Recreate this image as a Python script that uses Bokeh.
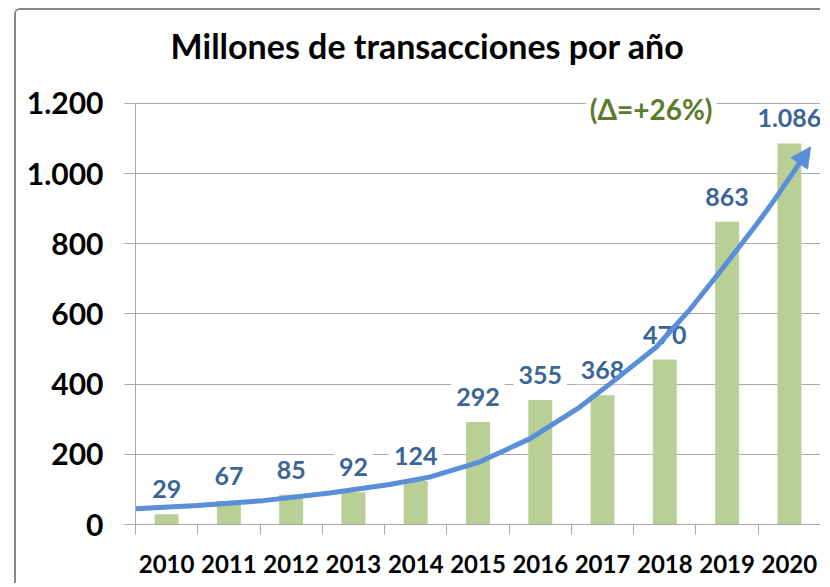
from bokeh.plotting import figure
from bokeh.models import (FixedTicker, Label, Arrow, NormalHead)
from bokeh.core.properties import value
from bokeh.embed import file_html
from bokeh.resources import INLINE

# ---- data ----
years = ["2010", "2011", "2012", "2013", "2014", "2015", "2016", "2017", "2018", "2019", "2020"]
transactions = [29, 67, 85, 92, 124, 292, 355, 368, 470, 863, 1086]
value_labels = ["29", "67", "85", "92", "124", "292", "355", "368", "470", "863", "1.086"]
y_ticks = [0, 200, 400, 600, 800, 1000, 1200]
y_tick_labels = ["0", "200", "400", "600", "800", "1.000", "1.200"]
# trend arrow (x in category index units)
trend_x = [-0.5, 0.49, 1.55, 2.62, 3.58, 4.22, 5.02, 5.83, 6.63, 7.15, 7.86, 8.39, 8.92, 9.46, 9.78, 10.34]
trend_y = [45, 54, 68, 90, 114, 135, 178, 244, 334, 405, 505, 610, 728, 852, 930, 1076]
growth_note = "(Δ=+26%)"
title_text = "Millones de transacciones por año"

FONT = "Lato"
BAR = "#b8cf95"
LBL = "#3b6596"
ARROW = "#5a8ed8"
GRID = "#a9a9a9"

idx = list(range(len(years)))

p = figure(width=806, height=575, x_range=(-0.5, 10.5), y_range=(0, 1459),
           output_backend="svg", toolbar_location=None,
           min_border_left=119, min_border_right=2, min_border_top=2, min_border_bottom=61)
p.styles = {"margin-left": "14px", "margin-top": "8px",
            "border-left": "2px solid #878787",
            "border-top": "2px solid #878787", "border-top-left-radius": "6px"}
p.outline_line_color = None
p.background_fill_color = "white"
p.title.visible = False

# title (inside the tall frame, above the plotted values)
p.add_layout(Label(x=4.19, y=1364, text=title_text, text_align="center",
                   text_baseline="alphabetic", text_font=FONT, text_font_style="bold",
                   text_font_size="34px", text_color="black"))

# bars
p.vbar(x=idx, top=transactions, width=0.385, fill_color=BAR, line_color=None)

# value labels
p.text(x=idx, y=transactions, text=value_labels, y_offset=-25,
       text_align="center", text_baseline="middle",
       text_font=value(FONT), text_font_style="bold", text_font_size="25px",
       text_color=LBL, background_fill_color="white", padding=5)

# trend curve with arrow head
p.line(trend_x[:-1], trend_y[:-1], line_width=5, line_color=ARROW, line_join="round")
p.add_layout(Arrow(end=NormalHead(size=20, fill_color=ARROW, line_color=ARROW),
                   x_start=trend_x[-2], y_start=trend_y[-2],
                   x_end=trend_x[-1], y_end=trend_y[-1],
                   line_width=5, line_color=ARROW))

# growth note
p.add_layout(Label(x=7.78, y=1185, text=growth_note, text_align="center",
                   text_baseline="alphabetic", text_font=FONT, text_font_style="bold",
                   text_font_size="28px", text_color="#5c7b2e",
                   background_fill_color="white", padding=4))

# axes
p.xgrid.visible = False
p.ygrid.ticker = FixedTicker(ticks=y_ticks)
p.ygrid.grid_line_color = GRID

p.yaxis.ticker = FixedTicker(ticks=y_ticks)
p.yaxis.bounds = (0, 1200)
p.yaxis.major_label_overrides = {t: l for t, l in zip(y_ticks, y_tick_labels)}
p.yaxis.major_label_text_font = FONT
p.yaxis.major_label_text_font_style = "bold"
p.yaxis.major_label_text_font_size = "30px"
p.yaxis.major_label_text_color = "black"
p.yaxis.major_label_standoff = 21
p.yaxis.major_tick_out = 11
p.yaxis.major_tick_in = 0
p.yaxis.minor_tick_line_color = None
p.yaxis.axis_line_color = GRID
p.yaxis.major_tick_line_color = GRID

p.xaxis.ticker = FixedTicker(ticks=idx, minor_ticks=[i - 0.5 for i in range(len(years) + 1)])
p.xaxis.major_label_overrides = {i: y for i, y in zip(idx, years)}
p.xaxis.major_label_text_font = FONT
p.xaxis.major_label_text_font_style = "bold"
p.xaxis.major_label_text_font_size = "24px"
p.xaxis.major_label_text_color = "black"
p.xaxis.major_label_standoff = 20
p.xaxis.major_tick_out = 0
p.xaxis.major_tick_in = 0
p.xaxis.minor_tick_out = 10
p.xaxis.minor_tick_in = 0
p.xaxis.minor_tick_line_color = GRID
p.xaxis.axis_line_color = GRID

open("out.html", "w").write(file_html(p, INLINE))
